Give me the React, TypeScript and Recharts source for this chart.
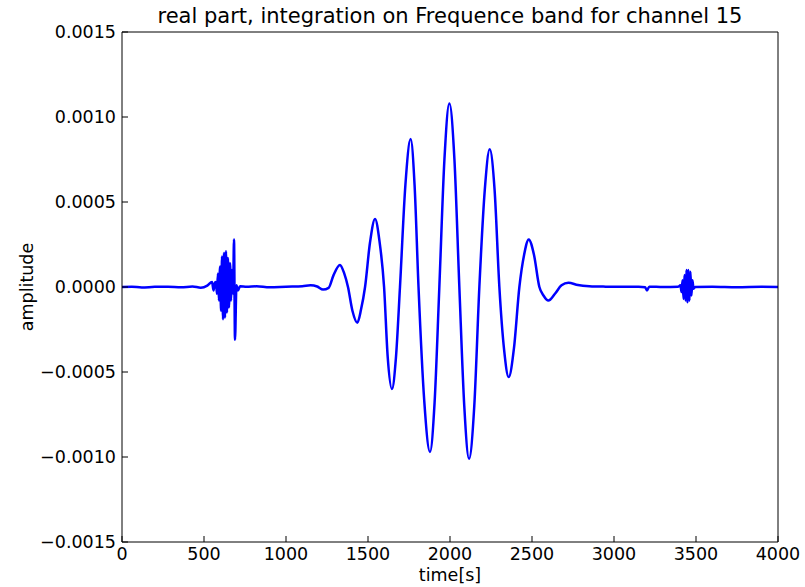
import { LineChart, Line, XAxis, YAxis, Label } from 'recharts'

// time in seconds, amplitude
const times = [
  0, 60, 120, 200, 280, 360, 430, 480, 520, 549, 558, 567, 573, 579, 585, 591, 598, 604, 610, 616,
  622, 628, 634, 640, 646, 652, 659, 665, 671, 677, 683, 689, 698, 707, 720, 760, 820, 900, 1000,
  1100, 1150, 1190, 1226, 1260, 1290, 1329, 1355, 1378, 1405, 1435, 1458, 1482, 1512, 1543, 1570,
  1598, 1620, 1646, 1670, 1695, 1728, 1760, 1784, 1808, 1843, 1878, 1906, 1935, 1966, 1996, 2027,
  2057, 2087, 2116, 2148, 2179, 2212, 2242, 2272, 2301, 2330, 2358, 2390, 2423, 2452, 2480, 2512,
  2545, 2570, 2600, 2640, 2680, 2722, 2780, 2850, 2950, 3050, 3150, 3190, 3201, 3215, 3300, 3390,
  3405, 3412, 3418, 3424, 3430, 3436, 3442, 3448, 3454, 3460, 3466, 3472, 3478, 3485, 3495, 3600,
  3750, 3900, 4000,
]

const amplitudes = [
  0, 0.000002, -0.000003, 0.000001, 0.000002, -0.000002, 0.000003, -0.000004, 0.000008, 0.00003,
  -0.00002, 0.000025, 0.00003, -0.00004, 0.00008, -0.00008, 0.00012, -0.00014, 0.00018, -0.00019,
  0.0002, -0.00018, 0.00021, -0.00015, 0.00017, -0.00012, 0.00014, -0.00008, 0.0001, -0.00004,
  0.00028, -0.00031, 0.00001, -0.00002, 0.000005, 0.000002, 0.000004, -0.000002, 0.000002,
  0.000005, 0.00001, 0.000003, -0.000015, -0.000005, 0.00007, 0.00013, 0.00008, 0, -0.00014,
  -0.00021, -0.00013, 0, 0.00026, 0.0004, 0.00027, 0, -0.00041, -0.0006, -0.00042, 0, 0.0006,
  0.00087, 0.0006, 0, -0.00067, -0.00097, -0.00068, 0, 0.00075, 0.00108, 0.00075, 0, -0.0007,
  -0.00101, -0.0007, 0, 0.00057, 0.00081, 0.00057, 0, -0.00037, -0.00053, -0.00036, 0, 0.00019,
  0.00028, 0.00019, 0, -0.00005, -0.00008, -0.00004, 0.00001, 0.000025, 0.000012, 0.000005,
  0.000002, 0.000001, 0.000002, -0.000002, -0.00002, 0.000002, 0, 0.000001, 0.00001, -0.00003,
  0.00004, -0.00007, 0.00007, -0.00008, 0.0001, -0.00009, 0.0001, -0.00008, 0.00009, -0.00005,
  0.00004, -0.00001, 0, 0.000002, -0.000001, 0.000001, 0,
]

const xTicks = [0, 500, 1000, 1500, 2000, 2500, 3000, 3500, 4000]
const yTicks = [-0.0015, -0.001, -0.0005, 0, 0.0005, 0.001, 0.0015]

const data = times.map((t, i) => ({ t, amp: amplitudes[i] }))

const font = 'DejaVu Sans'
const tickStyle = { fill: '#000', fontSize: 17.5, fontFamily: font }

const fmtY = (v: number) => (v < 0 ? '\u2212' + Math.abs(v).toFixed(4) : v.toFixed(4))

export default function App() {
  return (
    <div style={{ position: 'absolute', left: 0, top: 0 }}>
      <LineChart width={805} height={587} data={data} margin={{ top: 31, right: 26, bottom: 44, left: 121 }}>
        <XAxis
          xAxisId="bottom"
          dataKey="t"
          type="number"
          domain={[0, 4000]}
          ticks={xTicks}
          allowDataOverflow
          height={1}
          tickSize={-6}
          tickMargin={12}
          tick={tickStyle}
          tickLine={{ stroke: '#000' }}
          axisLine={{ stroke: '#000' }}
        >
          <Label
            content={(props: any) => {
              const vb = props.viewBox
              return (
                <text x={vb.x + vb.width / 2} y={vb.y + 39} textAnchor="middle" fontSize={17.5} fontFamily={font} fill="#000">
                  time[s]
                </text>
              )
            }}
          />
        </XAxis>
        <XAxis
          xAxisId="top"
          orientation="top"
          dataKey="t"
          type="number"
          domain={[0, 4000]}
          ticks={xTicks}
          allowDataOverflow
          height={1}
          tickSize={-6}
          tick={false}
          tickLine={{ stroke: '#000' }}
          axisLine={{ stroke: '#000' }}
        >
          <Label
            content={(props: any) => {
              const vb = props.viewBox
              return (
                <text x={vb.x + vb.width / 2} y={vb.y + vb.height - 9} textAnchor="middle" fontSize={21} fontFamily={font} fill="#000">
                  real part, integration on Frequence band for channel 15
                </text>
              )
            }}
          />
        </XAxis>
        <YAxis
          yAxisId="left"
          type="number"
          domain={[-0.0015, 0.0015]}
          ticks={yTicks}
          allowDataOverflow
          width={1}
          tickSize={-6}
          tickMargin={12}
          tick={tickStyle}
          tickFormatter={fmtY}
          tickLine={{ stroke: '#000' }}
          axisLine={{ stroke: '#000' }}
        >
          <Label
            content={(props: any) => {
              const vb = props.viewBox
              const cy = vb.y + vb.height / 2
              return (
                <text x={33} y={cy} transform={`rotate(-90, 33, ${cy})`} textAnchor="middle" fontSize={17.5} fontFamily={font} fill="#000">
                  amplitude
                </text>
              )
            }}
          />
        </YAxis>
        <YAxis
          yAxisId="right"
          orientation="right"
          type="number"
          domain={[-0.0015, 0.0015]}
          ticks={yTicks}
          allowDataOverflow
          width={1}
          tickSize={-6}
          tick={false}
          tickLine={{ stroke: '#000' }}
          axisLine={{ stroke: '#000' }}
        />
        <Line
          xAxisId="bottom"
          yAxisId="left"
          type="monotone"
          dataKey="amp"
          stroke="#0000ff"
          strokeWidth={2.5}
          dot={false}
          isAnimationActive={false}
        />
      </LineChart>
    </div>
  )
}
